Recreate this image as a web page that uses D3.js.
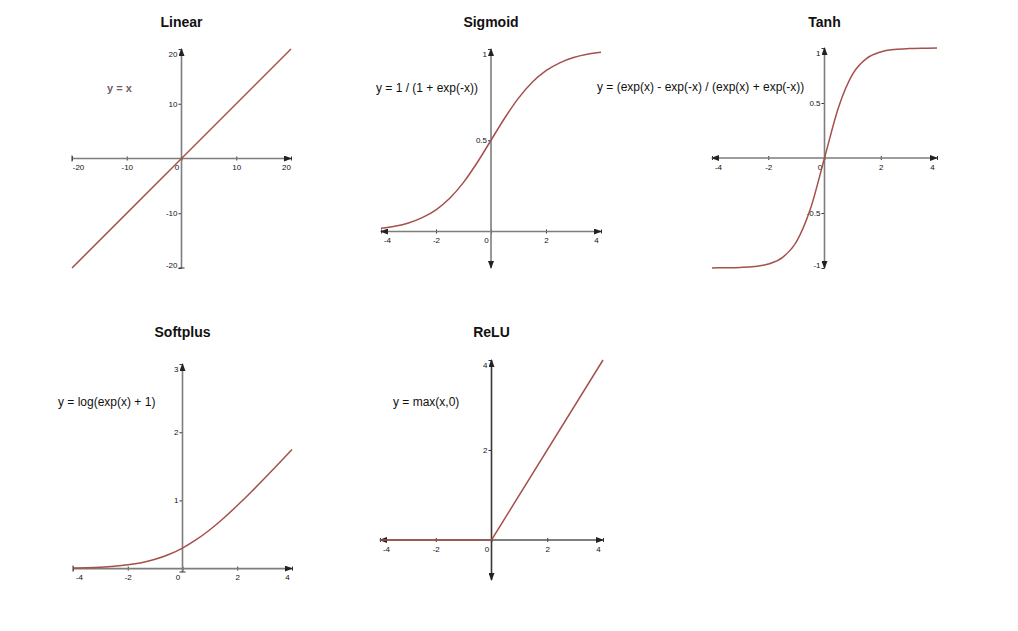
<!DOCTYPE html>
<html>
<head>
<meta charset="utf-8">
<script src="https://cdn.jsdelivr.net/npm/d3@7"></script>
<style>
  html, body { margin: 0; padding: 0; background: #fff; }
  svg { display: block; font-family: "Liberation Sans", Arial, Helvetica, sans-serif; }
</style>
</head>
<body>
<svg id="chart" width="1018" height="631"></svg>
<script>
// ---------- Data ----------
const titles = ["Linear", "Sigmoid", "Tanh", "Softplus", "ReLU"];
const equations = [
  "y = x",
  "y = 1 / (1 + exp(-x))",
  "y = (exp(x) - exp(-x) / (exp(x) + exp(-x))",
  "y = log(exp(x) + 1)",
  "y = max(x,0)"
];

const linearX = [-20, 20];
const linearY = [-20, 20];

const curveX = [-4, -3.5, -3, -2.5, -2, -1.5, -1, -0.5, 0, 0.5, 1, 1.5, 2, 2.5, 3, 3.5, 4];
const sigmoidY = [0.018, 0.029, 0.047, 0.076, 0.119, 0.182, 0.269, 0.378, 0.5, 0.622, 0.731, 0.818, 0.881, 0.924, 0.953, 0.971, 0.982];
const tanhY = [-0.999, -0.998, -0.995, -0.987, -0.964, -0.905, -0.762, -0.462, 0, 0.462, 0.762, 0.905, 0.964, 0.987, 0.995, 0.998, 0.999];
const softplusY = [0.008, 0.013, 0.021, 0.034, 0.055, 0.087, 0.136, 0.206, 0.301, 0.423, 0.570, 0.739, 0.924, 1.120, 1.324, 1.533, 1.745];

const reluX = [-4, 0, 4];
const reluY = [0, 0, 4];

const linearXTicks = [-20, -10, 0, 10, 20];
const linearYTicks = [-20, -10, 10, 20];
const sigmoidXTicks = [-4, -2, 0, 2, 4];
const sigmoidYTicks = [0.5, 1];
const tanhXTicks = [-4, -2, 0, 2, 4];
const tanhYTicks = [-1, -0.5, 0.5, 1];
const softplusXTicks = [-4, -2, 0, 2, 4];
const softplusYTicks = [1, 2, 3];
const reluXTicks = [-4, -2, 0, 2, 4];
const reluYTicks = [2, 4];

// ---------- Layout ----------
const svg = d3.select("#chart");
const LINE_COLOR = "#a4504b";
const AXIS_GRAY = "#7d7d7d";
const fmt = d => String(d);   // plain hyphen-minus, as in the reference

const defs = svg.append("defs");
function makeMarker(id, color) {
  defs.append("marker")
    .attr("id", id)
    .attr("viewBox", "0 0 8 6")
    .attr("refX", 7).attr("refY", 3)
    .attr("markerUnits", "userSpaceOnUse")
    .attr("markerWidth", 8).attr("markerHeight", 6)
    .attr("orient", "auto-start-reverse")
    .append("path").attr("d", "M0,0 L8,3 L0,6 Z").attr("fill", color);
}
makeMarker("arrGray", "#222");
makeMarker("arrDark", "#222");

const panels = [
  { title: titles[0], eq: equations[0], xs: linearX, ys: linearY, xDom: [-20, 20], yDom: [-20, 20],
    xR: [72, 291], yR: [268, 49], xT: linearXTicks, yT: linearYTicks, curve: d3.curveLinear,
    arrows: { xStart: false, xEnd: true, yStart: false, yEnd: true },
    eqPos: [107, 92], eqStyle: "label", titleY: 27, axisColor: AXIS_GRAY, xAxisColor: AXIS_GRAY },
  { title: titles[1], eq: equations[1], xs: curveX, ys: sigmoidY, xDom: [-4, 4], yDom: [-0.2, 1],
    xR: [381, 601], yR: [268, 49], xT: sigmoidXTicks, yT: sigmoidYTicks, curve: d3.curveMonotoneX,
    arrows: { xStart: true, xEnd: true, yStart: true, yEnd: true },
    eqPos: [376, 92], titleY: 27, axisColor: AXIS_GRAY, xAxisColor: AXIS_GRAY },
  { title: titles[2], eq: equations[2], xs: curveX, ys: tanhY, xDom: [-4, 4], yDom: [-1, 1],
    xR: [712, 937], yR: [268, 48], xT: tanhXTicks, yT: tanhYTicks, curve: d3.curveMonotoneX,
    arrows: { xStart: true, xEnd: true, yStart: true, yEnd: true },
    eqPos: [597, 91], titleY: 27, axisColor: AXIS_GRAY, xAxisColor: AXIS_GRAY },
  { title: titles[3], eq: equations[3], xs: curveX, ys: softplusY, xDom: [-4, 4], yDom: [-0.05, 3],
    xR: [73, 292], yR: [572, 364], xT: softplusXTicks, yT: softplusYTicks, curve: d3.curveMonotoneX,
    arrows: { xStart: false, xEnd: true, yStart: false, yEnd: true },
    eqPos: [58, 406], titleY: 337, axisColor: AXIS_GRAY, xAxisColor: AXIS_GRAY },
  { title: titles[4], eq: equations[4], xs: reluX, ys: reluY, xDom: [-4, 4], yDom: [-0.89, 4],
    xR: [380, 603], yR: [580, 360], xT: reluXTicks, yT: reluYTicks, curve: d3.curveLinear,
    arrows: { xStart: true, xEnd: true, yStart: true, yEnd: true },
    eqPos: [393, 406], titleY: 337, axisColor: "#3e3434", xAxisColor: "#555" }
];

panels.forEach(p => {
  const x = d3.scaleLinear().domain(p.xDom).range(p.xR);
  const y = d3.scaleLinear().domain(p.yDom).range(p.yR);
  const x0 = x(0), y0 = y(0);
  const g = svg.append("g");

  // title
  g.append("text")
    .attr("x", x0).attr("y", p.titleY)
    .attr("text-anchor", "middle")
    .attr("font-size", 14).attr("font-weight", "bold").attr("fill", "#111")
    .text(p.title);

  // equation
  const eq = g.append("text")
    .attr("x", p.eqPos[0]).attr("y", p.eqPos[1])
    .attr("font-size", p.eqStyle === "label" ? 11 : 12)
    .attr("fill", p.eqStyle === "label" ? "#6e6066" : "#111")
    .text(p.eq);
  if (p.eqStyle === "label") eq.attr("font-weight", "bold");

  // x axis
  const xAxis = d3.axisBottom(x).tickValues(p.xT).tickSizeInner(3).tickSizeOuter(0).tickPadding(3)
    .tickFormat(fmt);
  const gx = g.append("g").attr("transform", `translate(0,${y0})`).call(xAxis);
  gx.select(".domain").remove();
  gx.selectAll(".tick line").attr("y1", -2).attr("y2", 2).attr("stroke", "#333");
  gx.selectAll(".tick text").attr("font-size", 8).attr("fill", "#111")
    .attr("font-family", "Liberation Sans, Arial, sans-serif")
    .attr("dx", d => d === p.xDom[0] ? 6 : d === p.xDom[1] ? -5 : d === 0 ? -5 : 0);

  g.append("line")
    .attr("x1", x(p.xDom[0])).attr("x2", x(p.xDom[1]))
    .attr("y1", y0).attr("y2", y0)
    .attr("stroke", p.xAxisColor).attr("stroke-width", 1.6)
    .attr("marker-start", p.arrows.xStart ? "url(#arrGray)" : null)
    .attr("marker-end", p.arrows.xEnd ? "url(#arrGray)" : null);
  if (!p.arrows.xStart) {
    g.append("line").attr("x1", x(p.xDom[0])).attr("x2", x(p.xDom[0]))
      .attr("y1", y0 - 3).attr("y2", y0 + 3).attr("stroke", "#333");
  }

  // y axis
  const yAxis = d3.axisLeft(y).tickValues(p.yT).tickSizeInner(3).tickSizeOuter(0).tickPadding(1)
    .tickFormat(fmt);
  const gy = g.append("g").attr("transform", `translate(${x0},0)`).call(yAxis);
  gy.select(".domain").remove();
  gy.selectAll(".tick line").attr("stroke", "#333");
  gy.selectAll(".tick text").attr("font-size", 8).attr("fill", "#111")
    .attr("font-family", "Liberation Sans, Arial, sans-serif")
    .attr("dy", d => d === p.yDom[1] || d === p.yT[p.yT.length - 1] && y(d) < p.yR[1] + 6 ? "0.9em"
                  : d === p.yDom[0] ? "-0.1em" : "0.32em");

  g.append("line")
    .attr("x1", x0).attr("x2", x0)
    .attr("y1", y(p.yDom[0])).attr("y2", y(p.yDom[1]))
    .attr("stroke", p.axisColor).attr("stroke-width", 1.6)
    .attr("marker-start", p.arrows.yStart ? "url(#arrDark)" : null)
    .attr("marker-end", p.arrows.yEnd ? "url(#arrDark)" : null);
  if (!p.arrows.yStart) {
    g.append("line").attr("x1", x0 - 3).attr("x2", x0 + 3)
      .attr("y1", y(p.yDom[0])).attr("y2", y(p.yDom[0])).attr("stroke", "#333");
  }

  // function line
  const pts = p.xs.map((v, i) => [v, p.ys[i]]);
  g.append("path")
    .datum(pts)
    .attr("fill", "none")
    .attr("stroke", LINE_COLOR)
    .attr("stroke-width", 1.5)
    .attr("d", d3.line().x(d => x(d[0])).y(d => y(d[1])).curve(p.curve));
});
</script>
</body>
</html>
